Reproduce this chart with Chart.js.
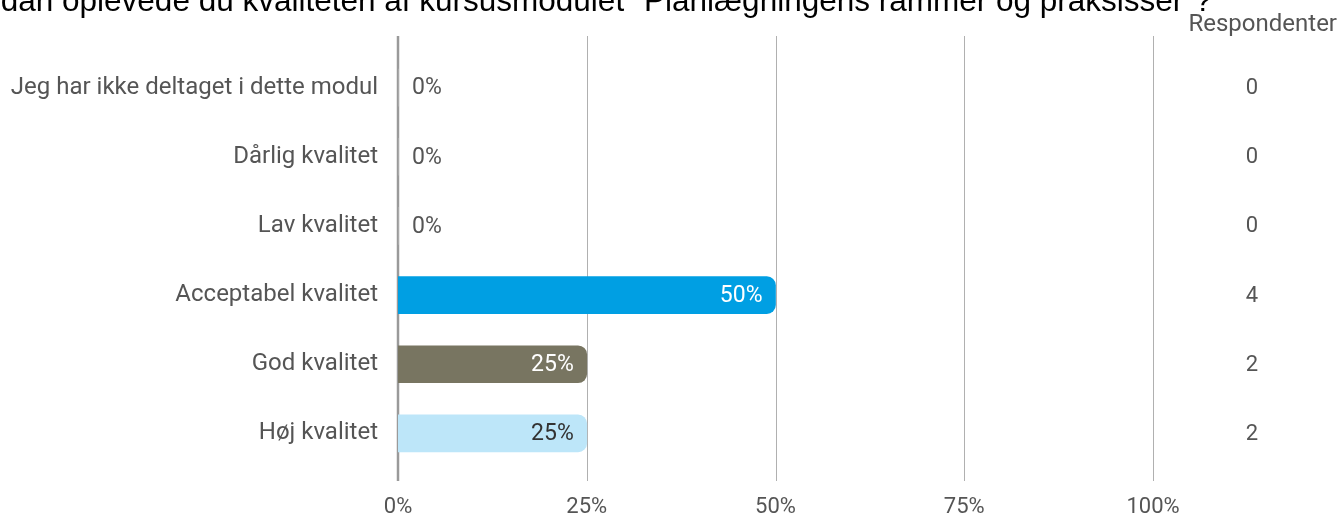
<!DOCTYPE html>
<html>
<head>
<meta charset="utf-8">
<script src="https://cdn.jsdelivr.net/npm/chart.js@4"></script>
<style>
  html, body { margin: 0; padding: 0; background: #fff; }
  #wrap { width: 1343px; height: 518px; }
</style>
</head>
<body>
<div id="wrap"><canvas id="qualityChart" width="1343" height="518"></canvas></div>
<script>
var titleText = 'Hvordan oplevede du kvaliteten af kursusmodulet "Planlægningens rammer og praksisser"?';
var categories = ['Jeg har ikke deltaget i dette modul', 'Dårlig kvalitet', 'Lav kvalitet', 'Acceptabel kvalitet', 'God kvalitet', 'Høj kvalitet'];
var percentValues = [0, 0, 0, 50, 25, 25];
var respondents = [0, 0, 0, 4, 2, 2];
var tickValues = [0, 25, 50, 75, 100];
var barColors = ['#cccccc', '#cccccc', '#cccccc', '#009FE3', '#787561', '#BDE6F9'];
var labelColors = ['#555555', '#555555', '#555555', '#ffffff', '#ffffff', '#333333'];

var textGrey = '#555555';

// grid lines reach a bit above and below the plot area
var gridPlugin = {
    id: 'gridLines',
    beforeDatasetsDraw: function (chart) {
        var ctx = chart.ctx;
        var x = chart.scales.x;
        var area = chart.chartArea;
        ctx.save();
        tickValues.forEach(function (v) {
            var px = Math.round(x.getPixelForValue(v));
            ctx.beginPath();
            if (v === 0) {
                ctx.strokeStyle = '#9a9a9a';
                ctx.lineWidth = 2.5;
            } else {
                ctx.strokeStyle = '#b0b0b0';
                ctx.lineWidth = 1;
                px += 0.5;
            }
            ctx.moveTo(px, area.top - 17);
            ctx.lineTo(px, area.bottom + 13);
            ctx.stroke();
        });
        ctx.restore();
    }
};

var labelPlugin = {
    id: 'barLabels',
    afterDatasetsDraw: function (chart) {
        var ctx = chart.ctx;
        var meta = chart.getDatasetMeta(0);
        var x = chart.scales.x;
        ctx.save();
        ctx.textBaseline = 'middle';
        meta.data.forEach(function (bar, i) {
            var v = percentValues[i];
            ctx.font = '23px Roboto';
            if (v > 0) {
                ctx.textAlign = 'right';
                ctx.fillStyle = labelColors[i];
                ctx.fillText(v + '%', bar.x - 13, bar.y + 1);
            } else {
                ctx.textAlign = 'left';
                ctx.fillStyle = textGrey;
                ctx.fillText(v + '%', x.getPixelForValue(0) + 14, bar.y + 1);
            }
            // respondent count column
            ctx.textAlign = 'center';
            ctx.fillStyle = textGrey;
            ctx.font = '22px Roboto';
            ctx.fillText(String(respondents[i]), 1252, bar.y + 1);
        });
        ctx.textAlign = 'right';
        ctx.font = '24px Roboto';
        ctx.fillText('Respondenter', 1337, 25);

        // title, clipped at the top like the original
        ctx.font = '31.5px "Liberation Sans"';
        ctx.fillStyle = '#000000';
        ctx.textBaseline = 'alphabetic';
        ctx.textAlign = 'right';
        ctx.fillText(titleText, 1212, 11);
        ctx.restore();
    }
};

var ctx = document.getElementById('qualityChart').getContext('2d');
var qualityChart = new Chart(ctx, {
    type: 'bar',
    data: {
        labels: categories,
        datasets: [{
            data: percentValues,
            backgroundColor: barColors,
            borderWidth: 0,
            borderRadius: 9,
            barThickness: 37,
            categoryPercentage: 1
        }]
    },
    options: {
        indexAxis: 'y',
        responsive: false,
        animation: false,
        layout: {
            padding: { top: 53, right: 190, left: 0, bottom: 0 }
        },
        scales: {
            x: {
                min: 0,
                max: 100,
                afterBuildTicks: function (scale) {
                    scale.ticks = tickValues.map(function (v) { return { value: v }; });
                },
                afterFit: function (scale) {
                    scale.height = 50;
                },
                grid: { display: false, drawTicks: false },
                border: { display: false },
                ticks: {
                    padding: 26,
                    color: textGrey,
                    font: { family: 'Roboto', size: 22 },
                    callback: function (v) { return v + '%'; }
                }
            },
            y: {
                afterFit: function (scale) {
                    scale.width = 398;
                },
                grid: { display: false, drawTicks: false },
                border: { display: false },
                ticks: {
                    padding: 20,
                    color: textGrey,
                    font: { family: 'Roboto', size: 24 }
                }
            }
        },
        plugins: {
            legend: { display: false },
            tooltip: { enabled: false }
        }
    },
    plugins: [gridPlugin, labelPlugin]
});
</script>
</body>
</html>
